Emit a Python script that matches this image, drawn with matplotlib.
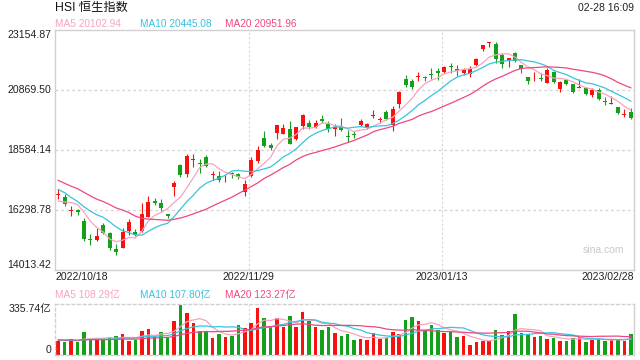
import numpy as np
import matplotlib
matplotlib.use("Agg")
import matplotlib.pyplot as plt
from matplotlib import transforms

plt.rcParams["font.family"] = ["Liberation Sans", "Noto Sans CJK SC"]

title = "HSI 恒生指数"
stamp = "02-28 16:09"
date_labels = ["2022/10/18", "2022/11/29", "2023/01/13", "2023/02/28"]
date_idx = [0, 30, 60, 89]
price_ticks = [14013.42, 16298.78, 18584.14, 20869.50, 23154.87]
vol_ticks = [0, 335.74]
ma_names = ["MA5", "MA10", "MA20"]
ma_price = [20102.94, 20445.08, 20951.96]
ma_vol = [108.29, 107.80, 123.27]

# daily OHLC, 2022/10/18 .. 2023/02/28
opens = [16880, 16780, 16250, 16300, 15880, 15200, 15150, 15720, 15430, 14800,
         14860, 15480, 15450, 15480, 16050, 16640, 16560, 16150, 17180, 18000,
         17680, 18220, 18090, 18320, 17630, 17600, 17500, 17690, 17680, 17000,
         17580, 18150, 19050, 18780, 19250, 19200, 19390, 18990, 19500, 19630,
         19470, 19780, 19590, 19380, 19480, 19120, 19180, 19540, 19420, 19880,
         19720, 20050, 19540, 20340, 21280, 21210, 21370, 21340, 21450, 21580,
         21570, 21770, 21660, 21510, 21480, 21820, 22420, 22660, 22610, 22200,
         21980, 22290, 21820, 21350, 21270, 21300, 21150, 21570, 20920, 21250,
         21100, 20950, 20940, 20680, 20870, 20450, 20340, 20210, 19930, 20050]
highs = [17080, 16900, 16470, 16330, 16000, 15400, 15600, 15800, 15450, 15000,
         15600, 15960, 15560, 16550, 16850, 16740, 16700, 16160, 17400, 18050,
         18420, 18450, 18230, 18400, 17800, 17800, 17640, 17760, 17690, 17450,
         18300, 18750, 19300, 18850, 19520, 19560, 19700, 19470, 19960, 19730,
         19720, 19900, 19700, 19570, 19800, 19330, 19300, 19750, 19600, 20100,
         19860, 20100, 20250, 20850, 21440, 21280, 21550, 21420, 21700, 21700,
         21800, 21900, 21820, 21700, 21800, 22100, 22600, 22700, 22700, 22260,
         22090, 22330, 21830, 21360, 21560, 21500, 21700, 21580, 21200, 21260,
         21110, 21300, 21000, 20940, 20960, 20620, 20650, 20220, 20150, 20180]
lows = [16720, 16470, 16060, 16120, 15100, 14950, 15100, 15380, 14780, 14597,
        14860, 15350, 15290, 15460, 16040, 16480, 16250, 15980, 16830, 17560,
        17560, 17950, 17700, 17950, 17450, 17350, 17380, 17510, 17480, 16850,
        17570, 18100, 18700, 18600, 19000, 19200, 18800, 18950, 19380, 19400,
        19420, 19620, 19280, 19100, 19320, 18890, 19060, 19490, 19380, 19800,
        19600, 19730, 19320, 20180, 20990, 20900, 21230, 21200, 21270, 21250,
        21500, 21500, 21420, 21450, 21370, 21780, 22370, 22500, 21900, 21720,
        21750, 21950, 21500, 21100, 21230, 21200, 21130, 21150, 20800, 21050,
        20750, 20930, 20680, 20600, 20480, 20300, 20330, 19950, 19850, 19750]
closes = [16914, 16511, 16280, 16211, 15180, 15165, 15317, 15427, 14863, 14687,
          15455, 15827, 15339, 16161, 16595, 16557, 16358, 16081, 17326, 17619,
          18343, 18256, 18045, 17993, 17655, 17424, 17523, 17660, 17573, 17297,
          18204, 18597, 18736, 18675, 19518, 19441, 18815, 19450, 19901, 19463,
          19596, 19673, 19368, 19450, 19352, 19094, 19160, 19679, 19593, 19898,
          19741, 19781, 20145, 20793, 21052, 20991, 21388, 21331, 21436, 21514,
          21738, 21746, 21577, 21678, 21651, 22045, 22566, 22689, 22069, 21842,
          22072, 21958, 21660, 21222, 21298, 21283, 21624, 21190, 21164, 21113,
          20812, 20987, 20719, 20887, 20529, 20423, 20351, 20010, 19943, 19786]
# turnover, 亿
volumes = [92, 88, 103, 88, 151, 105, 103, 103, 114, 125,
           138, 94, 99, 158, 173, 116, 151, 114, 224, 329,
           279, 208, 158, 154, 114, 140, 121, 127, 197, 180,
           213, 312, 246, 182, 244, 187, 259, 187, 285, 224,
           182, 165, 182, 147, 125, 138, 99, 105, 99, 143,
           105, 114, 151, 138, 230, 250, 224, 165, 197, 165,
           147, 158, 121, 125, 66, 88, 94, 94, 165, 132,
           158, 270, 147, 136, 121, 125, 105, 114, 94, 94,
           114, 121, 88, 101, 105, 94, 103, 103, 94, 140]
# the 19 sessions before the window, only used to seed the moving averages
prev_close = [18781, 18444, 18147, 17933, 17855, 17860, 17250, 17165, 17223, 17079,
              17740, 18088, 17740, 17217, 16832, 16701, 16389, 16588, 16612]
prev_vol = [105, 98, 112, 96, 101, 94, 110, 103, 99, 92,
            108, 97, 104, 90, 100, 95, 98, 102, 96]

RED = "#f5120f"
GREEN = "#14a01a"
MA_COLORS = ["#f7a3c0", "#38c3df", "#ef4780"]
GRID = "#d6d6d6"
FRAME = "#d0d0d0"
W, H = 640, 360


def box(l, t, r, b):
    return [l / W, 1 - b / H, (r - l) / W, (b - t) / H]


def moving_avg(series, prev, n):
    full = np.r_[prev, series].astype(float)
    return np.convolve(full, np.ones(n) / n, mode="valid")[-len(series):]


o, h, l, c = (np.array(a, float) for a in (opens, highs, lows, closes))
vol = np.array(volumes, float)
x = np.arange(len(c))
cols = np.where(c >= o, RED, GREEN)

fig = plt.figure(figsize=(6.4, 3.6), dpi=100)
ax = fig.add_axes(box(55, 30, 634, 270))
axv = fig.add_axes(box(55, 304, 634, 355))

# candles
ax.vlines(x, l, h, color=cols, lw=0.8)
ax.bar(x, np.maximum(np.abs(c - o), 35), 0.62, bottom=np.minimum(o, c),
       color=cols, linewidth=0)
for n, col in zip((5, 10, 20), MA_COLORS):
    ax.plot(x, moving_avg(c, prev_close, n), color=col, lw=0.9)

axv.bar(x, vol, 0.55, color=cols, linewidth=0)
for n, col in zip((5, 10, 20), MA_COLORS):
    axv.plot(x, moving_avg(vol, prev_vol, n), color=col, lw=0.9)

ax.set_xlim(-0.5, len(c) - 0.5)
axv.set_xlim(-0.5, len(c) - 0.5)
ax.set_ylim(price_ticks[0], price_ticks[-1])
axv.set_ylim(vol_ticks[0], vol_ticks[-1])

for a in (ax, axv):
    a.set_xticks([])
    a.set_yticks([])
    for i in date_idx[1:3]:
        a.axvline(i - 0.4, color=GRID, lw=0.8, ls=(0, (2, 2)), zorder=0)

for v in price_ticks[1:-1]:
    ax.axhline(v, color=GRID, lw=1.0, ls=(0, (2, 2)), zorder=0)
for s in ax.spines.values():
    s.set_color(FRAME)
    s.set_linewidth(1.0)
for k, s in axv.spines.items():
    s.set_color(FRAME)
    s.set_linewidth(1.0)
    if k != "right":
        s.set_linestyle((0, (2, 2)))

# y labels
tk = dict(fontsize=7.6, color="#222222", ha="right")
tr = transforms.blended_transform_factory(ax.transAxes, ax.transData)
for k, v in enumerate(price_ticks):
    va = "bottom" if k == 0 else ("top" if k == len(price_ticks) - 1 else "center")
    ax.text(-0.006, v, f"{v:.2f}", transform=tr, va=va, **tk)
trv = transforms.blended_transform_factory(axv.transAxes, axv.transData)
axv.text(-0.006, vol_ticks[0], "0", transform=trv, va="bottom", **tk)
axv.text(-0.006, vol_ticks[1], f"{vol_ticks[1]:.2f}亿", transform=trv, va="top", **tk)

# date labels
trd = transforms.blended_transform_factory(ax.transData, ax.transAxes)
for k, (i, s) in enumerate(zip(date_idx, date_labels)):
    if k == 0:
        ax.text(0, -0.029, s, transform=ax.transAxes, ha="left", va="center",
                fontsize=7.6, color="#222222")
    elif k == len(date_idx) - 1:
        ax.text(1, -0.029, s, transform=ax.transAxes, ha="right", va="center",
                fontsize=7.6, color="#222222")
    else:
        ax.text(i - 0.4, -0.029, s, transform=trd, ha="center", va="center",
                fontsize=7.6, color="#222222")

# header texts
fig.text(55 / W, 1 - 8 / H, title, fontsize=8.8, color="#111111", va="center")
fig.text(634 / W, 1 - 8 / H, stamp, fontsize=7.6, color="#222222",
         va="center", ha="right")
for xp, name, v, vv, col in zip((55, 140, 225), ma_names, ma_price, ma_vol, MA_COLORS):
    fig.text(xp / W, 1 - 24 / H, f"{name} {v:.2f}", fontsize=7.3, color=col, va="center")
    fig.text(xp / W, 1 - 295 / H, f"{name} {vv:.2f}亿", fontsize=7.3, color=col, va="center")

fig.text(603 / W, 1 - 250 / H, "sina.com", fontsize=7.5, color="#c8c8c8",
         ha="center", va="center")

fig.savefig("out.png", dpi=100)
